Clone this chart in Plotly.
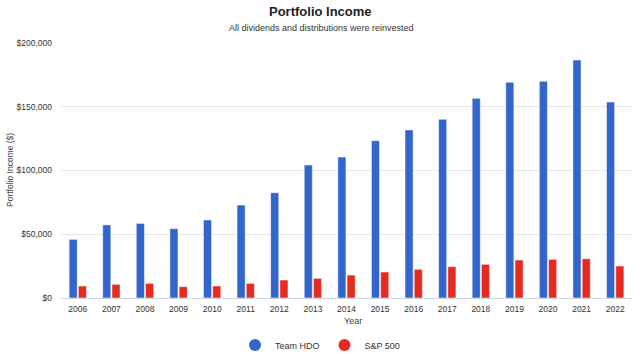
import plotly.graph_objects as go

years = [str(y) for y in range(2006, 2023)]
team_hdo = [46000, 57300, 58500, 54400, 61200, 72900, 82600, 104300, 110600,
            123400, 131800, 140100, 156600, 169200, 170000, 186700, 153700]
sp500 = [9400, 10700, 11500, 8900, 9400, 11500, 14100, 15400, 18000,
         20400, 22500, 24600, 26400, 29800, 30300, 30800, 25100]
y_ticks = [0, 50000, 100000, 150000, 200000]
y_tick_labels = ["$0", "$50,000", "$100,000", "$150,000", "$200,000"]

BLUE = "#3366cc"
RED = "#e52b1f"
FONT = "Liberation Sans, Arial, sans-serif"

W, H = 640, 354
plot_top, plot_bottom, plot_left, plot_right = 43, 298, 61, 632
ph = plot_bottom - plot_top
pw = plot_right - plot_left


def py(pix):
    return (plot_bottom - pix) / ph


def px(pix):
    return (pix - plot_left) / pw


def ann(text, xpix, ypix, size, color, angle=0):
    return dict(text=text, x=px(xpix), y=py(ypix), xref="paper", yref="paper",
                xanchor="center", yanchor="middle", showarrow=False,
                textangle=angle, font=dict(size=size, color=color))


fig = go.Figure()
fig.add_trace(go.Bar(x=years, y=team_hdo, name="Team HDO", marker_color=BLUE,
                     marker_line=dict(color="rgba(255,255,255,0.5)", width=1),
                     showlegend=False))
fig.add_trace(go.Bar(x=years, y=sp500, name="S&P 500", marker_color=RED,
                     marker_line=dict(color="rgba(255,255,255,0.5)", width=1),
                     showlegend=False))
# legend entries with circle markers
fig.add_trace(go.Scatter(x=[None], y=[None], mode="markers", name="Team HDO",
                         marker=dict(color=BLUE, size=10, symbol="circle")))
fig.add_trace(go.Scatter(x=[None], y=[None], mode="markers", name="S&P 500",
                         marker=dict(color=RED, size=10, symbol="circle")))

fig.update_layout(
    width=W, height=H,
    margin=dict(l=plot_left, r=W - plot_right, t=plot_top, b=H - plot_bottom,
                autoexpand=False),
    paper_bgcolor="white", plot_bgcolor="white",
    font=dict(family=FONT, size=8, color="#333"),
    barmode="group", bargap=0.45, bargroupgap=0.12,
    showlegend=True,
    legend=dict(orientation="h", x=px(320), xanchor="center",
                yref="container", y=(H - 345) / H, yanchor="middle",
                font=dict(size=9, color="#333"), itemsizing="constant",
                traceorder="normal", itemwidth=30),
    xaxis=dict(type="category", showgrid=False, ticks="", showline=True,
               linecolor="#ccd6eb", linewidth=1, ticklabelstandoff=3,
               tickfont=dict(size=8.5, color="#333")),
    yaxis=dict(range=[0, 200000], tickvals=y_ticks, ticktext=y_tick_labels,
               showgrid=True, gridcolor="#e6e6e6", gridwidth=1, zeroline=False,
               ticks="", ticklabelstandoff=8,
               tickfont=dict(size=8.5, color="#333"), fixedrange=True),
    annotations=[
        ann("<b>Portfolio Income</b>", 320, 12, 13, "#222"),
        ann("All dividends and distributions were reinvested", 321, 28, 9, "#333"),
        ann("Portfolio Income ($)", 10, 170, 8.5, "#444", -90),
        ann("Year", 353, 321, 9, "#444"),
    ],
)

fig.write_html("out.html")
